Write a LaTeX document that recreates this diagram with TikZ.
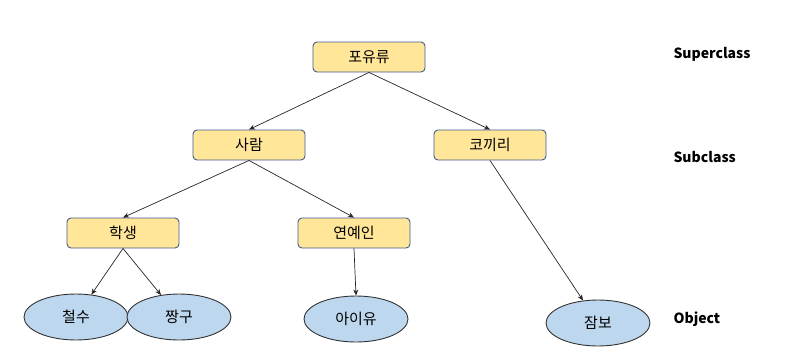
\documentclass[tikz,border=0pt]{standalone}
\usepackage{fontspec}
\setmainfont{Noto Sans CJK KR}
\usetikzlibrary{arrows.meta,shapes.geometric}
\definecolor{boxfill}{HTML}{FFE699}
\definecolor{boxline}{HTML}{41598F}
\definecolor{objfill}{HTML}{BDD7EE}
\begin{document}
\begin{tikzpicture}[x=1pt,y=-1pt,
    cls/.style={draw=boxline,fill=boxfill,rounded corners=4pt,line width=.9pt,
      minimum width=112pt,minimum height=30pt,inner sep=0pt,font=\fontsize{15}{17}\selectfont},
    obj/.style={ellipse,draw=black!80,fill=objfill,line width=.9pt,
      minimum width=104pt,minimum height=46pt,inner sep=0pt,font=\fontsize{15}{17}\selectfont},
    lvl/.style={anchor=west,font=\bfseries\fontsize{14}{16}\selectfont},
    link/.style={-{Stealth[length=6pt,width=5pt]},line width=.7pt,black!85}]
  \useasboundingbox (0,0) rectangle (796,360);
  % classes
  \node[cls] (mammal) at (369,57) {포유류};
  \node[cls] (human) at (249,145) {사람};
  \node[cls] (elephant) at (490,145) {코끼리};
  \node[cls] (student) at (123,233) {학생};
  \node[cls] (star) at (354,233) {연예인};
  % objects
  \node[obj] (chulsoo) at (76,317) {철수};
  \node[obj] (jjanggu) at (179,317) {짱구};
  \node[obj] (iu) at (356,319) {아이유};
  \node[obj] (jumbo) at (598,323) {잠보};
  % levels
  \node[lvl] (super) at (670,54) {Superclass};
  \node[lvl] (sub) at (670,157) {Subclass};
  \node[lvl] (object) at (670,319) {Object};
  % links
  \draw[link] (mammal.south) -- (human.north);
  \draw[link] (mammal.south) -- (elephant.north);
  \draw[link] (human.south) -- (student.north);
  \draw[link] (human.south) -- (star.north);
  \draw[link] (student.south) -- (chulsoo);
  \draw[link] (student.south) -- (jjanggu);
  \draw[link] (star.south) -- (iu.north);
  \draw[link] (elephant.south) -- (jumbo);
\end{tikzpicture}
\end{document}
